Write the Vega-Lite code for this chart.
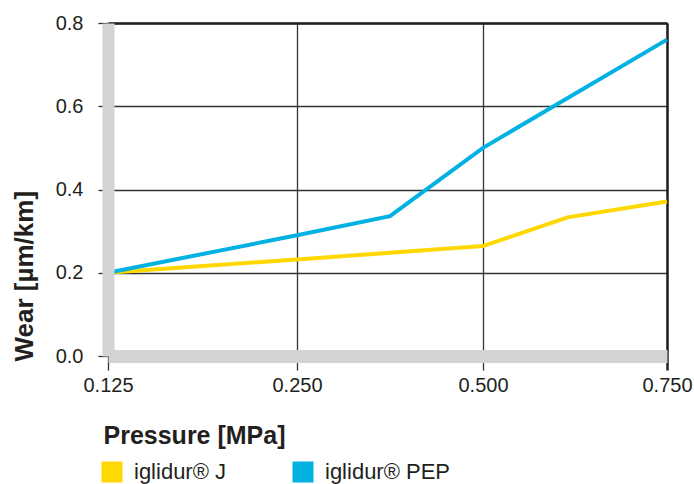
{
  "$schema": "https://vega.github.io/schema/vega-lite/v6.json",
  "width": 559,
  "height": 333,
  "autosize": {"type": "none"},
  "padding": {"left": 108, "top": 23, "right": 27, "bottom": 128},
  "background": "white",
  "config": {"view": {"stroke": null}, "font": "Liberation Sans"},
  "data": {"values": [
    {"pressure": 0.125, "wear": 0.2, "material": "iglidur® J"},
    {"pressure": 0.25, "wear": 0.232, "material": "iglidur® J"},
    {"pressure": 0.5, "wear": 0.264, "material": "iglidur® J"},
    {"pressure": 0.615, "wear": 0.333, "material": "iglidur® J"},
    {"pressure": 0.75, "wear": 0.371, "material": "iglidur® J"},
    {"pressure": 0.125, "wear": 0.2, "material": "iglidur® PEP"},
    {"pressure": 0.25, "wear": 0.29, "material": "iglidur® PEP"},
    {"pressure": 0.375, "wear": 0.336, "material": "iglidur® PEP"},
    {"pressure": 0.5, "wear": 0.5, "material": "iglidur® PEP"},
    {"pressure": 0.75, "wear": 0.76, "material": "iglidur® PEP"}
  ]},
  "layer": [
    {
      "mark": {"type": "line", "strokeOpacity": 0},
      "encoding": {
        "x": {
          "field": "pressure", "type": "quantitative",
          "scale": {"domain": [0.125, 0.25, 0.5, 0.75], "range": [0, 189, 375, 559], "nice": false, "zero": false},
          "axis": {"orient": "top", "values": [0.125, 0.25, 0.5, 0.75], "labels": false, "ticks": false, "title": null,
                   "domainColor": "#231F20", "domainWidth": 2.5, "grid": true, "gridColor": "#333333", "gridWidth": 1.3, "gridOpacity": 1, "zindex": 0}
        },
        "y": {
          "field": "wear", "type": "quantitative",
          "scale": {"domain": [0, 0.8], "nice": false, "zero": true},
          "axis": {"orient": "right", "values": [0, 0.2, 0.4, 0.6, 0.8], "labels": false, "ticks": false, "title": null,
                   "domainColor": "#231F20", "domainWidth": 2.5, "grid": true, "gridColor": "#333333", "gridWidth": 1.3, "gridOpacity": 1, "zindex": 0}
        },
        "detail": {"field": "material", "type": "nominal"}
      }
    },
    {
      "mark": {"type": "line", "strokeWidth": 4},
      "encoding": {
        "x": {
          "field": "pressure", "type": "quantitative",
          "scale": {"domain": [0.125, 0.25, 0.5, 0.75], "range": [0, 189, 375, 559], "nice": false, "zero": false},
          "axis": {"orient": "bottom", "values": [0.125, 0.25, 0.5, 0.75], "format": ".3f", "grid": false,
                   "labelFlush": false,
                   "domainColor": "#D1D3D4", "domainWidth": 13,
                   "tickColor": {"condition": {"test": "datum.value == 0.75", "value": "#231F20"}, "value": "#333333"},
                   "tickWidth": {"condition": {"test": "datum.value == 0.75", "value": 2.5}, "value": 1.3},
                   "tickSize": 14,
                   "labelFontSize": 20, "labelPadding": 5, "labelColor": "#231F20",
                   "title": "Pressure [MPa]", "titleFontSize": 25, "titleFontWeight": "bold", "titleColor": "#231F20",
                   "titleAlign": "left", "titleBaseline": "alphabetic", "titleX": -5, "titleY": 87, "titleAnchor": null,
                   "zindex": 1}
        },
        "y": {
          "field": "wear", "type": "quantitative",
          "scale": {"domain": [0, 0.8], "nice": false, "zero": true},
          "axis": {"orient": "left", "values": [0, 0.2, 0.4, 0.6, 0.8], "format": ".1f", "grid": false,
                   "labelFlush": false,
                   "domainColor": "#D1D3D4", "domainWidth": 12,
                   "tickColor": "#333333", "tickSize": 10, "tickWidth": 1.3,
                   "labelFontSize": 20, "labelPadding": 15, "labelColor": "#231F20",
                   "title": "Wear [µm/km]", "titleFontSize": 26, "titleFontWeight": "bold", "titleColor": "#231F20",
                   "titleAngle": -90, "titleAlign": "left", "titleBaseline": "alphabetic", "titleX": -76, "titleY": 338, "titleAnchor": null,
                   "zindex": 1}
        },
        "color": {
          "field": "material", "type": "nominal",
          "scale": {"domain": ["iglidur® J", "iglidur® PEP"], "range": ["#FFD800", "#00B1E1"]},
          "legend": {"orient": "none", "legendX": -7, "legendY": 438, "direction": "horizontal", "title": null,
                     "symbolType": "square", "symbolSize": 441, "symbolStrokeWidth": 0,
                     "labelFontSize": 22, "labelOffset": 11, "labelColor": "#231F20", "columnPadding": 65, "padding": 0,
                     "encode": {"symbols": {"update": {"fill": {"scale": "color", "field": "value"}, "fillOpacity": {"value": 1}}}}}
        }
      }
    }
  ],
  "resolve": {"axis": {"x": "independent", "y": "independent"}}
}
